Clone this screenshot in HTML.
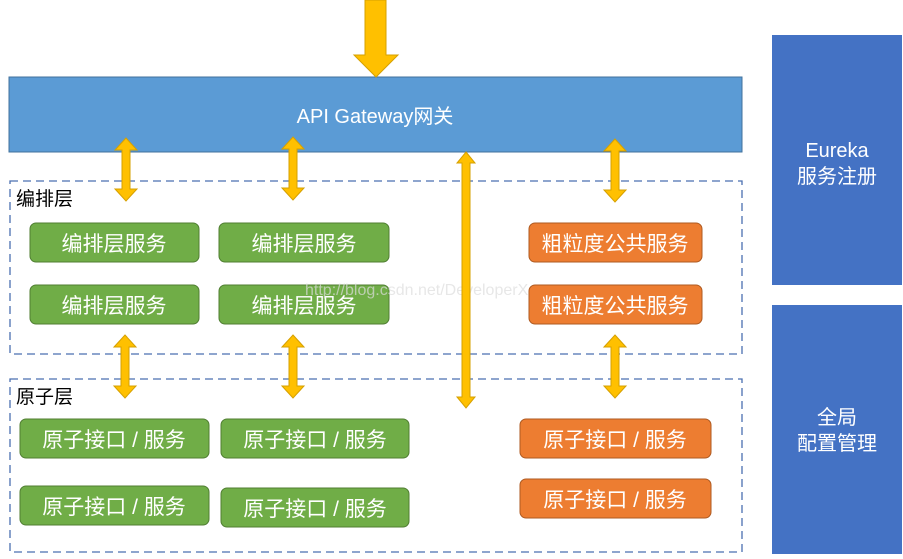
<!DOCTYPE html>
<html><head><meta charset="utf-8"><style>
html,body{margin:0;padding:0;background:#fff;}
svg text{font-family:"Liberation Sans","Noto Sans CJK SC",sans-serif;}
</style></head><body>
<svg width="903" height="554" xmlns="http://www.w3.org/2000/svg">
<defs>
<g id="da"><polygon points="0,0 11,12 4,12 4,51 11,51 0,63 -11,51 -4,51 -4,12 -11,12" fill="#ffc000" stroke="#d6a000" stroke-width="1"/></g>
</defs>
<rect x="9" y="77" width="733" height="75" fill="#5b9bd5" stroke="#41719c" stroke-width="1"/>
<text x="375" y="123" font-size="20" fill="#fff" text-anchor="middle">API Gateway网关</text>
<polygon points="365,0 386,0 386,55 398,55 376,77 354,55 365,55" fill="#ffc000" stroke="#d6a000" stroke-width="1"/>
<rect x="772" y="35" width="130" height="250" fill="#4472c4"/>
<text x="837" y="157" font-size="20" fill="#fff" text-anchor="middle">Eureka</text>
<text x="837" y="183" font-size="20" fill="#fff" text-anchor="middle">服务注册</text>
<rect x="772" y="305" width="130" height="249" fill="#4472c4"/>
<text x="837" y="424" font-size="20" fill="#fff" text-anchor="middle">全局</text>
<text x="837" y="450" font-size="20" fill="#fff" text-anchor="middle">配置管理</text>
<rect x="10" y="181" width="732" height="173" fill="none" stroke="#4a6fb0" stroke-width="1.3" stroke-dasharray="8,5"/>
<text x="16" y="205" font-size="19" fill="#000">编排层</text>
<rect x="10" y="379" width="732" height="173" fill="none" stroke="#4a6fb0" stroke-width="1.3" stroke-dasharray="8,5"/>
<text x="16" y="403" font-size="19" fill="#000">原子层</text>
<g font-size="21" fill="#fff" text-anchor="middle">
<rect x="30" y="223" width="169" height="39" rx="6" fill="#70ad47" stroke="#507e32"/><text x="114" y="251">编排层服务</text>
<rect x="219" y="223" width="170" height="39" rx="6" fill="#70ad47" stroke="#507e32"/><text x="304" y="251">编排层服务</text>
<rect x="30" y="285" width="169" height="39" rx="6" fill="#70ad47" stroke="#507e32"/><text x="114" y="313">编排层服务</text>
<rect x="219" y="285" width="170" height="39" rx="6" fill="#70ad47" stroke="#507e32"/><text x="304" y="313">编排层服务</text>
<rect x="529" y="223" width="173" height="39" rx="6" fill="#ed7d31" stroke="#ae5a21"/><text x="615" y="251">粗粒度公共服务</text>
<rect x="529" y="285" width="173" height="39" rx="6" fill="#ed7d31" stroke="#ae5a21"/><text x="615" y="313">粗粒度公共服务</text>
<rect x="20" y="419" width="189" height="39" rx="6" fill="#70ad47" stroke="#507e32"/><text x="114" y="447">原子接口 / 服务</text>
<rect x="221" y="419" width="188" height="39" rx="6" fill="#70ad47" stroke="#507e32"/><text x="315" y="447">原子接口 / 服务</text>
<rect x="20" y="486" width="189" height="39" rx="6" fill="#70ad47" stroke="#507e32"/><text x="114" y="514">原子接口 / 服务</text>
<rect x="221" y="488" width="188" height="39" rx="6" fill="#70ad47" stroke="#507e32"/><text x="315" y="516">原子接口 / 服务</text>
<rect x="520" y="419" width="191" height="39" rx="6" fill="#ed7d31" stroke="#ae5a21"/><text x="615" y="447">原子接口 / 服务</text>
<rect x="520" y="479" width="191" height="39" rx="6" fill="#ed7d31" stroke="#ae5a21"/><text x="615" y="507">原子接口 / 服务</text>
</g>
<text x="305" y="295" font-size="16" fill="#ddd" font-family="Liberation Serif,serif" opacity="0.7">http://blog.csdn.net/DeveloperX</text>
<use href="#da" x="126" y="138"/>
<use href="#da" x="293" y="137"/>
<use href="#da" x="615" y="139"/>
<use href="#da" x="125" y="335"/>
<use href="#da" x="293" y="335"/>
<use href="#da" x="615" y="335"/>
<polygon points="466,152 475,163 470,163 470,397 475,397 466,408 457,397 462,397 462,163 457,163" fill="#ffc000" stroke="#d6a000" stroke-width="1"/>
</svg>
</body></html>
